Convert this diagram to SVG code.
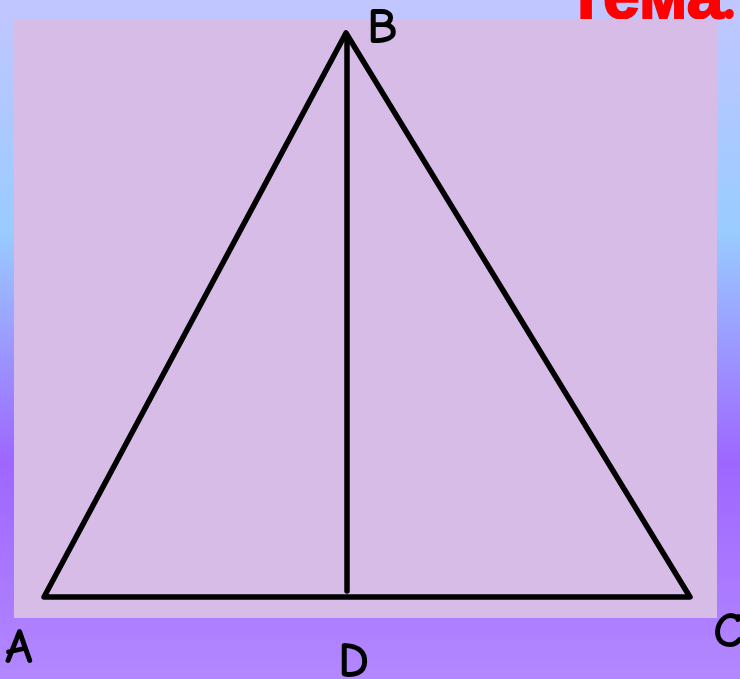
<svg xmlns="http://www.w3.org/2000/svg" width="740" height="679" viewBox="0 0 740 679">
<defs>
<linearGradient id="bg" x1="0" y1="0" x2="0" y2="1">
<stop offset="0" stop-color="#C2C6FF"/>
<stop offset="0.34" stop-color="#99CCFF"/>
<stop offset="0.68" stop-color="#9E66FF"/>
<stop offset="1" stop-color="#B388FF"/>
</linearGradient>
<style>
.lbl{font-family:"Comic Neue","Liberation Sans",sans-serif;font-size:50px;font-weight:bold;fill:#000;}
.ln{stroke:#000;stroke-width:5.5;fill:none;stroke-linecap:round;stroke-linejoin:round;}
</style>
</defs>
<rect width="740" height="679" fill="url(#bg)"/>
<text x="566" y="18" font-family="'Comic Neue','Liberation Sans',sans-serif" font-weight="bold" font-size="66" fill="#FF0000" stroke="#FF0000" stroke-width="2">Тема:</text>
<rect x="14" y="19" width="703" height="599" fill="#D8BCE8"/>
<g id="connectors">
<polygon class="ln" points="44,597 346,33 690,597"/>
<line class="ln" x1="347" y1="40" x2="347" y2="591"/>
</g>
<g id="B"><text class="lbl" x="367" y="43">B</text></g>
<g id="A"><text class="lbl" x="5" y="663">A</text></g>
<g id="D"><text class="lbl" x="338" y="677">D</text></g>
<g id="C"><text class="lbl" x="713" y="647">C</text></g>
</svg>
